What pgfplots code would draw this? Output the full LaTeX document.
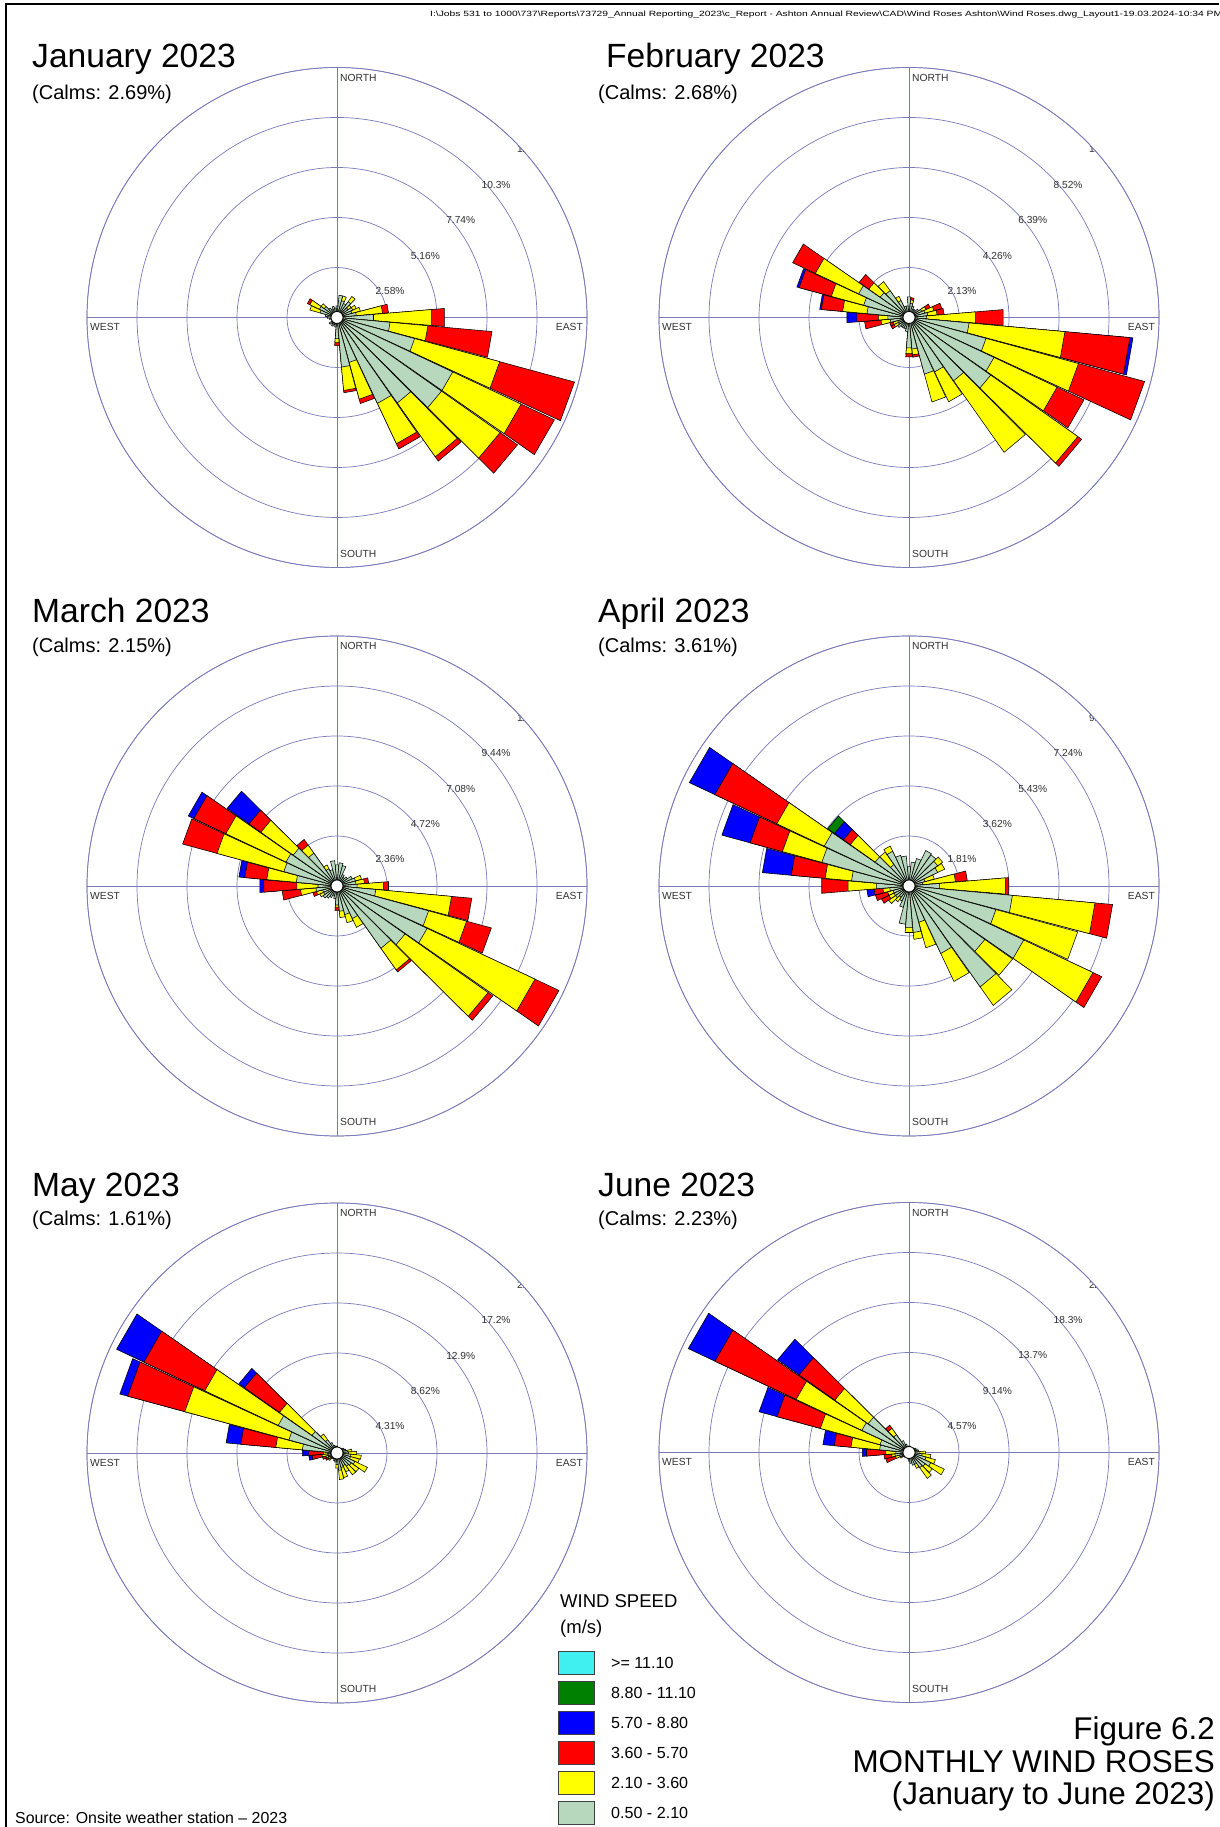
\documentclass[border=0pt]{standalone}
\usepackage{pgfplots}
\pgfplotsset{compat=1.18}
\usepackage{pgfplotstable}
\usepgfplotslibrary{polar}
\usepackage{fontspec}
\setmainfont{Liberation Sans}

\definecolor{wsA}{RGB}{184,216,190}
\definecolor{wsB}{RGB}{255,255,0}
\definecolor{wsC}{RGB}{255,0,0}
\definecolor{wsD}{RGB}{0,0,255}
\definecolor{wsE}{RGB}{0,128,0}
\definecolor{wsF}{RGB}{64,240,240}
\definecolor{gridc}{RGB}{122,122,186}
\definecolor{lblc}{RGB}{50,50,50}

% per-direction frequencies (%) for each speed class
% s1: 0.50-2.10, s2: 2.10-3.60, s3: 3.60-5.70, s4: 5.70-8.80, s5: 8.80-11.10
\pgfplotstableread{
dir s1 s2 s3 s4 s5
0 0.6 0 0 0 0
10 1.15 0 0 0 0
20 0.9 0.25 0 0 0
30 0.8 0 0 0 0
40 1.0 0.33 0 0 0
50 0.7 0.2 0 0 0
60 0.9 0.2 0 0 0
70 0.8 0.45 0 0 0
80 1.0 1.36 0.31 0 0
90 1.89 3.01 0.66 0 0
100 2.75 1.96 3.32 0 0
110 4.15 4.55 4.0 0 0
120 6.6 3.9 1.9 0 0
130 6.6 3.7 1.1 0 0
140 5.4 3.4 0.27 0 0
150 4.9 2.3 0.3 0 0
160 2.4 1.97 0.23 0 0
170 2.57 1.21 0.12 0 0
180 1.1 0.2 0.16 0 0
190 0.5 0 0 0 0
200 0.4 0 0 0 0
210 0.5 0 0 0 0
220 0.4 0 0 0 0
230 0.5 0 0 0 0
240 0.3 0 0 0 0
250 0.3 0 0 0 0
260 0.4 0 0 0 0
270 0.5 0 0 0 0
280 0.6 0 0 0 0
290 0.9 0.55 0 0 0
300 1.0 0.55 0.14 0 0
310 0.8 0.2 0 0 0
320 0.6 0 0 0 0
330 0.5 0 0 0 0
340 0.6 0 0 0 0
350 0.5 0 0 0 0
}\tabJan

\pgfplotstableread{
dir s1 s2 s3 s4 s5
0 0.88 0 0 0 0
10 0.6 0.15 0.1 0 0
20 0.5 0 0 0 0
30 0.4 0 0 0 0
40 0.4 0 0 0 0
50 0.5 0 0 0 0
60 0.6 0.2 0.2 0 0
70 0.7 0.4 0.35 0 0
80 0.8 0.4 0.3 0 0
90 0.75 2.1 1.17 0 0
100 2.57 4.1 2.78 0.13 0
110 3.4 4.08 2.92 0 0
120 4.0 2.97 1.27 0 0
130 4.26 4.54 0.2 0 0
140 3.3 3.73 0 0 0
150 2.56 1.41 0 0 0
160 2.5 1.23 0 0 0
170 1.35 0.25 0.1 0 0
180 1.3 0.25 0.13 0 0
190 0.6 0 0 0 0
200 0.5 0 0 0 0
210 0.5 0 0 0 0
220 0.5 0 0 0 0
230 0.6 0 0 0 0
240 0.5 0.2 0.15 0 0
250 0.5 0.2 0.15 0 0
260 0.8 0.4 0.7 0 0
270 0.9 0.41 0.92 0.43 0
280 1.8 1.04 0.91 0.07 0
290 2.0 1.43 1.42 0.1 0
300 2.37 2.04 1.07 0 0
310 1.5 0.6 0.5 0 0
320 1.4 0.47 0 0 0
330 0.8 0.2 0 0 0
340 0.5 0 0 0 0
350 0.5 0 0 0 0
}\tabFeb

\pgfplotstableread{
dir s1 s2 s3 s4 s5
0 1.0 0 0 0 0
10 1.1 0 0 0 0
20 1.0 0 0 0 0
30 0.6 0 0 0 0
40 0.5 0 0 0 0
50 0.6 0 0 0 0
60 0.8 0 0 0 0
70 0.9 0.3 0 0 0
80 0.9 0.4 0.2 0 0
90 0.95 1.25 0.24 0 0
100 1.84 3.59 0.96 0 0
110 4.48 1.86 1.21 0 0
120 4.7 5.63 1.25 0 0
130 3.93 4.8 0.27 0 0
140 3.6 1.25 0.12 0 0
150 1.7 0.46 0 0 0
160 1.4 0.4 0 0 0
170 1.2 0.3 0 0 0
180 0.9 0.1 0.15 0 0
190 0.6 0 0 0 0
200 0.5 0 0 0 0
210 0.6 0 0 0 0
220 0.7 0 0 0 0
230 0.8 0 0 0 0
240 0.7 0.2 0 0 0
250 0.7 0.3 0.18 0 0
260 1.0 0.73 0.87 0 0
270 0.9 1.0 1.56 0.19 0
280 1.93 1.4 1.04 0.28 0
290 2.6 3.27 1.68 0 0
300 2.66 3.14 1.67 0.29 0
310 2.53 1.87 0.68 1.27 0
320 1.9 0.46 0.33 0 0
330 0.9 0.2 0 0 0
340 0.8 0 0 0 0
350 1.2 0 0 0 0
}\tabMar

\pgfplotstableread{
dir s1 s2 s3 s4 s5
0 0.7 0 0 0 0
10 0.87 0 0 0 0
20 1.03 0 0 0 0
30 1.42 0 0 0 0
40 1.38 0 0 0 0
50 1.27 0.22 0 0 0
60 1.15 0.28 0 0 0
70 0.6 0.35 0 0 0
80 0.5 1.19 0.43 0 0
90 1.11 2.39 0.12 0 0
100 3.76 3.0 0.64 0 0
110 3.26 3.07 0 0 0
120 4.59 2.77 0.35 0 0
130 3.36 1.23 0 0 0
140 4.47 0.82 0 0 0
150 2.7 1.12 0 0 0
160 1.36 0.96 0 0 0
170 1.69 0.25 0 0 0
180 1.5 0.19 0 0 0
190 1.39 0 0 0 0
200 0.8 0 0 0 0
210 0.6 0 0 0 0
220 0.5 0.2 0 0 0
230 0.6 0.3 0 0 0
240 0.6 0.2 0.3 0 0
250 0.6 0.2 0.46 0 0
260 0.7 0.25 0.32 0.26 0
270 1.18 1.03 0.96 0 0
280 2.09 0.96 1.23 1.05 0
290 3.27 1.48 1.21 1.06 0
300 3.39 1.9 2.48 1.02 0
310 1.5 1.1 0.3 0.4 0.3
320 0.95 0.55 0 0 0
330 1.39 0.21 0 0 0
340 1.15 0 0 0 0
350 1.09 0 0 0 0
}\tabApr

\pgfplotstableread{
dir s1 s2 s3 s4 s5
0 0.6 0 0 0 0
10 0.5 0 0 0 0
20 0.5 0 0 0 0
30 0.4 0 0 0 0
40 0.5 0 0 0 0
50 0.6 0 0 0 0
60 0.7 0 0 0 0
70 0.8 0 0 0 0
80 0.9 0.4 0 0 0
90 1.0 0.7 0 0 0
100 1.2 0.9 0 0 0
110 1.2 0.8 0 0 0
120 1.7 1.2 0 0 0
130 1.5 0.8 0 0 0
140 1.4 0.9 0 0 0
150 1.2 0.6 0 0 0
160 1.3 0.9 0 0 0
170 1.5 0.8 0 0 0
180 1.0 0.3 0 0 0
190 0.8 0 0 0 0
200 0.7 0 0 0 0
210 0.6 0 0 0 0
220 0.6 0 0 0 0
230 0.7 0.2 0 0 0
240 0.7 0.2 0.2 0 0
250 0.8 0.2 0.3 0 0
260 0.8 0.5 0.85 0.29 0
270 0.8 0.35 1.29 0.56 0
280 3.0 2.3 3.03 1.27 0
290 4.3 9.3 5.1 0.7 0
300 5.6 7.0 5.8 2.6 0
310 2.64 3.43 3.7 0.58 0
320 1.4 0.6 0 0 0
330 1.0 0 0 0 0
340 0.7 0 0 0 0
350 0.6 0 0 0 0
}\tabMay

\pgfplotstableread{
dir s1 s2 s3 s4 s5
0 0.5 0 0 0 0
10 0.6 0 0 0 0
20 0.5 0 0 0 0
30 0.4 0 0 0 0
40 0.5 0 0 0 0
50 0.6 0 0 0 0
60 0.7 0 0 0 0
70 0.8 0 0 0 0
80 0.9 0 0 0 0
90 1.0 0.5 0 0 0
100 1.2 0.8 0 0 0
110 1.6 0.9 0 0 0
120 2.2 1.37 0 0 0
130 1.8 0.8 0 0 0
140 1.7 1.2 0 0 0
150 1.2 0.4 0 0 0
160 1.2 0 0 0 0
170 1.0 0 0 0 0
180 0.8 0 0 0 0
190 0.6 0 0 0 0
200 0.5 0 0 0 0
210 0.5 0 0 0 0
220 0.5 0 0 0 0
230 0.6 0 0 0 0
240 0.7 0.2 0 0 0
250 0.9 0.4 0.9 0 0
260 1.3 0.3 0.7 0 0
270 1.2 0.93 1.77 0.37 0
280 2.7 2.63 1.53 1.04 0
290 2.74 5.66 4.1 1.7 0
300 4.76 6.64 8.2 2.7 0
310 4.57 3.73 4.0 2.4 0
320 2.0 0.7 0.35 0 0
330 1.2 0 0 0 0
340 0.8 0 0 0 0
350 0.6 0 0 0 0
}\tabJun

\pgfplotsset{
  petal/.style={draw=black, line width=0.55pt, line join=miter},
  rose/.style={
    scale only axis, width=500pt, height=500pt,
    anchor=center,
    xmin=0, xmax=360, ymin=0,
    xtick={0,90,180,270},
    grid=major,
    major grid style={draw=gridc, line width=0.7pt},
    axis line style={draw=gridc, line width=0.7pt},
    xticklabels={}, yticklabels={},
    major tick length=0pt,
  },
}

% one wedge: compass direction, cumulative radius, colour
\newcommand\wrpetal[3]{%
  \pgfmathsetmacro\wrAa{90-#1-4.8}%
  \pgfmathsetmacro\wrAb{90-#1+4.8}%
  \edef\wrtmp{\noexpand\addplot[petal,fill=#3] coordinates {(0,0) (\wrAa,#2) (\wrAb,#2) (0,0)};}%
  \wrtmp
}
\newcommand\drawrose[1]{%
  \pgfplotstablegetrowsof{#1}%
  \pgfmathtruncatemacro\wrN{\pgfplotsretval-1}%
  \pgfplotsforeachungrouped \wrk in {0,...,\wrN}{%
    \pgfplotstablegetelem{\wrk}{dir}\of{#1}\edef\wrDir{\pgfplotsretval}%
    \pgfplotstablegetelem{\wrk}{s1}\of{#1}\edef\wrVa{\pgfplotsretval}%
    \pgfplotstablegetelem{\wrk}{s2}\of{#1}\edef\wrVb{\pgfplotsretval}%
    \pgfplotstablegetelem{\wrk}{s3}\of{#1}\edef\wrVc{\pgfplotsretval}%
    \pgfplotstablegetelem{\wrk}{s4}\of{#1}\edef\wrVd{\pgfplotsretval}%
    \pgfplotstablegetelem{\wrk}{s5}\of{#1}\edef\wrVe{\pgfplotsretval}%
    \pgfmathsetmacro\wrCa{\wrVa}%
    \pgfmathsetmacro\wrCb{\wrCa+\wrVb}%
    \pgfmathsetmacro\wrCc{\wrCb+\wrVc}%
    \pgfmathsetmacro\wrCd{\wrCc+\wrVd}%
    \pgfmathsetmacro\wrCe{\wrCd+\wrVe}%
    \ifdim\wrVe pt>0pt \wrpetal{\wrDir}{\wrCe}{wsE}\fi
    \ifdim\wrVd pt>0pt \wrpetal{\wrDir}{\wrCd}{wsD}\fi
    \ifdim\wrVc pt>0pt \wrpetal{\wrDir}{\wrCc}{wsC}\fi
    \ifdim\wrVb pt>0pt \wrpetal{\wrDir}{\wrCb}{wsB}\fi
    \ifdim\wrVa pt>0pt \wrpetal{\wrDir}{\wrCa}{wsA}\fi
  }%
}

\tikzset{
  lbl/.style={inner sep=0pt, text=lblc, font=\fontsize{10.3}{11}\selectfont},
  pct/.style={inner sep=0pt, anchor=north west, text=lblc, font=\fontsize{10.2}{11}\selectfont},
  ttl/.style={inner sep=0pt, anchor=base west, font=\fontsize{33.6}{36}\selectfont},
  clm/.style={inner sep=0pt, anchor=base west, font=\fontsize{20}{24}\selectfont},
}

\newcommand\roselabels[7]{%
  \node[lbl, anchor=west] at (#1+3,#2+240) {NORTH};
  \node[lbl, anchor=west] at (#1+3,#2-236) {SOUTH};
  \node[lbl, anchor=west] at (#1-247,#2-9.5) {WEST};
  \node[lbl, anchor=east] at (#1+246,#2-9.5) {EAST};
  \begin{scope}
    \clip (#1,#2) circle[radius=249.5pt];
    \node[pct] at (#1+38.4,#2+30.4) {#3\%};
    \node[pct] at (#1+73.7,#2+65.7) {#4\%};
    \node[pct] at (#1+109.1,#2+101.1) {#5\%};
    \node[pct] at (#1+144.4,#2+136.4) {#6\%};
    \node[pct] at (#1+179.8,#2+171.8) {#7\%};
  \end{scope}
  \draw[fill=white, line width=0.8pt] (#1,#2) circle[radius=6pt];
}

\begin{document}
\begin{tikzpicture}[x=1pt,y=1pt]
\useasboundingbox (0,0) rectangle (1219,1827);
\fill[white] (0,0) rectangle (1219,1827);
% sheet frame
\draw[line width=2pt] (6,0) -- (6,1823) -- (1219,1823);
\node[anchor=base west, inner sep=0pt] at (430,1810) {\resizebox{792pt}{5.5pt}{I:\textbackslash Jobs 531 to 1000\textbackslash 737\textbackslash Reports\textbackslash 73729\_Annual Reporting\_2023\textbackslash c\_Report - Ashton Annual Review\textbackslash CAD\textbackslash Wind Roses Ashton\textbackslash Wind Roses.dwg\_Layout1-19.03.2024-10:34 PM}};

% January
\begin{polaraxis}[rose, at={(337pt,1509.5pt)}, ymax=12.9, ytick={2.58,5.16,7.74,10.32,12.9}]
\drawrose{\tabJan}
\end{polaraxis}
\roselabels{337}{1509.5}{2.58}{5.16}{7.74}{10.3}{12.9}
\node[ttl] at (32,1759) {January 2023};
\node[clm] at (32,1727) {(Calms: 2.69\%)};

% February
\begin{polaraxis}[rose, at={(909pt,1509.5pt)}, ymax=10.65, ytick={2.13,4.26,6.39,8.52,10.65}]
\drawrose{\tabFeb}
\end{polaraxis}
\roselabels{909}{1509.5}{2.13}{4.26}{6.39}{8.52}{10.7}
\node[ttl] at (606,1759) {February 2023};
\node[clm] at (598,1727) {(Calms: 2.68\%)};

% March
\begin{polaraxis}[rose, at={(337pt,941pt)}, ymax=11.8, ytick={2.36,4.72,7.08,9.44,11.8}]
\drawrose{\tabMar}
\end{polaraxis}
\roselabels{337}{941}{2.36}{4.72}{7.08}{9.44}{11.8}
\node[ttl] at (32,1204) {March 2023};
\node[clm] at (32,1174) {(Calms: 2.15\%)};

% April
\begin{polaraxis}[rose, at={(909pt,941pt)}, ymax=9.05, ytick={1.81,3.62,5.43,7.24,9.05}]
\drawrose{\tabApr}
\end{polaraxis}
\roselabels{909}{941}{1.81}{3.62}{5.43}{7.24}{9.05}
\node[ttl] at (598,1204) {April 2023};
\node[clm] at (598,1174) {(Calms: 3.61\%)};

% May
\begin{polaraxis}[rose, at={(337pt,374pt)}, ymax=21.55, ytick={4.31,8.62,12.93,17.24,21.55}]
\drawrose{\tabMay}
\end{polaraxis}
\roselabels{337}{374}{4.31}{8.62}{12.9}{17.2}{21.6}
\node[ttl] at (32,630) {May 2023};
\node[clm] at (32,601) {(Calms: 1.61\%)};

% June
\begin{polaraxis}[rose, at={(909pt,374.5pt)}, ymax=22.85, ytick={4.57,9.14,13.71,18.28,22.85}]
\drawrose{\tabJun}
\end{polaraxis}
\roselabels{909}{374.5}{4.57}{9.14}{13.7}{18.3}{22.9}
\node[ttl] at (598,630) {June 2023};
\node[clm] at (598,601) {(Calms: 2.23\%)};

% legend
\node[anchor=base west, inner sep=0pt, font=\fontsize{18.5}{20}\selectfont] at (560,219) {WIND SPEED};
\node[anchor=base west, inner sep=0pt, font=\fontsize{18.5}{20}\selectfont] at (560,193) {(m/s)};
\foreach \c/\t [count=\i from 0] in {wsF/{>= 11.10}, wsE/{8.80 - 11.10}, wsD/{5.70 - 8.80}, wsC/{3.60 - 5.70}, wsB/{2.10 - 3.60}, wsA/{0.50 - 2.10}}{
  \draw[fill=\c, draw=black!75, line width=0.8pt] (558,{153-30*\i}) rectangle (594,{176-30*\i});
  \node[anchor=west, inner sep=0pt, font=\fontsize{16.1}{18}\selectfont] at (611,{164.5-30*\i}) {\t};
}

% figure caption
\node[anchor=base east, inner sep=0pt, font=\fontsize{31.4}{34}\selectfont] at (1215,87) {Figure 6.2};
\node[anchor=base east, inner sep=0pt, font=\fontsize{31.4}{34}\selectfont] at (1215,54) {MONTHLY WIND ROSES};
\node[anchor=base east, inner sep=0pt, font=\fontsize{31.4}{34}\selectfont] at (1215,23) {(January to June 2023)};
\node[anchor=base west, inner sep=0pt, font=\fontsize{15.9}{18}\selectfont] at (15,4) {Source: Onsite weather station – 2023};
\end{tikzpicture}
\end{document}
